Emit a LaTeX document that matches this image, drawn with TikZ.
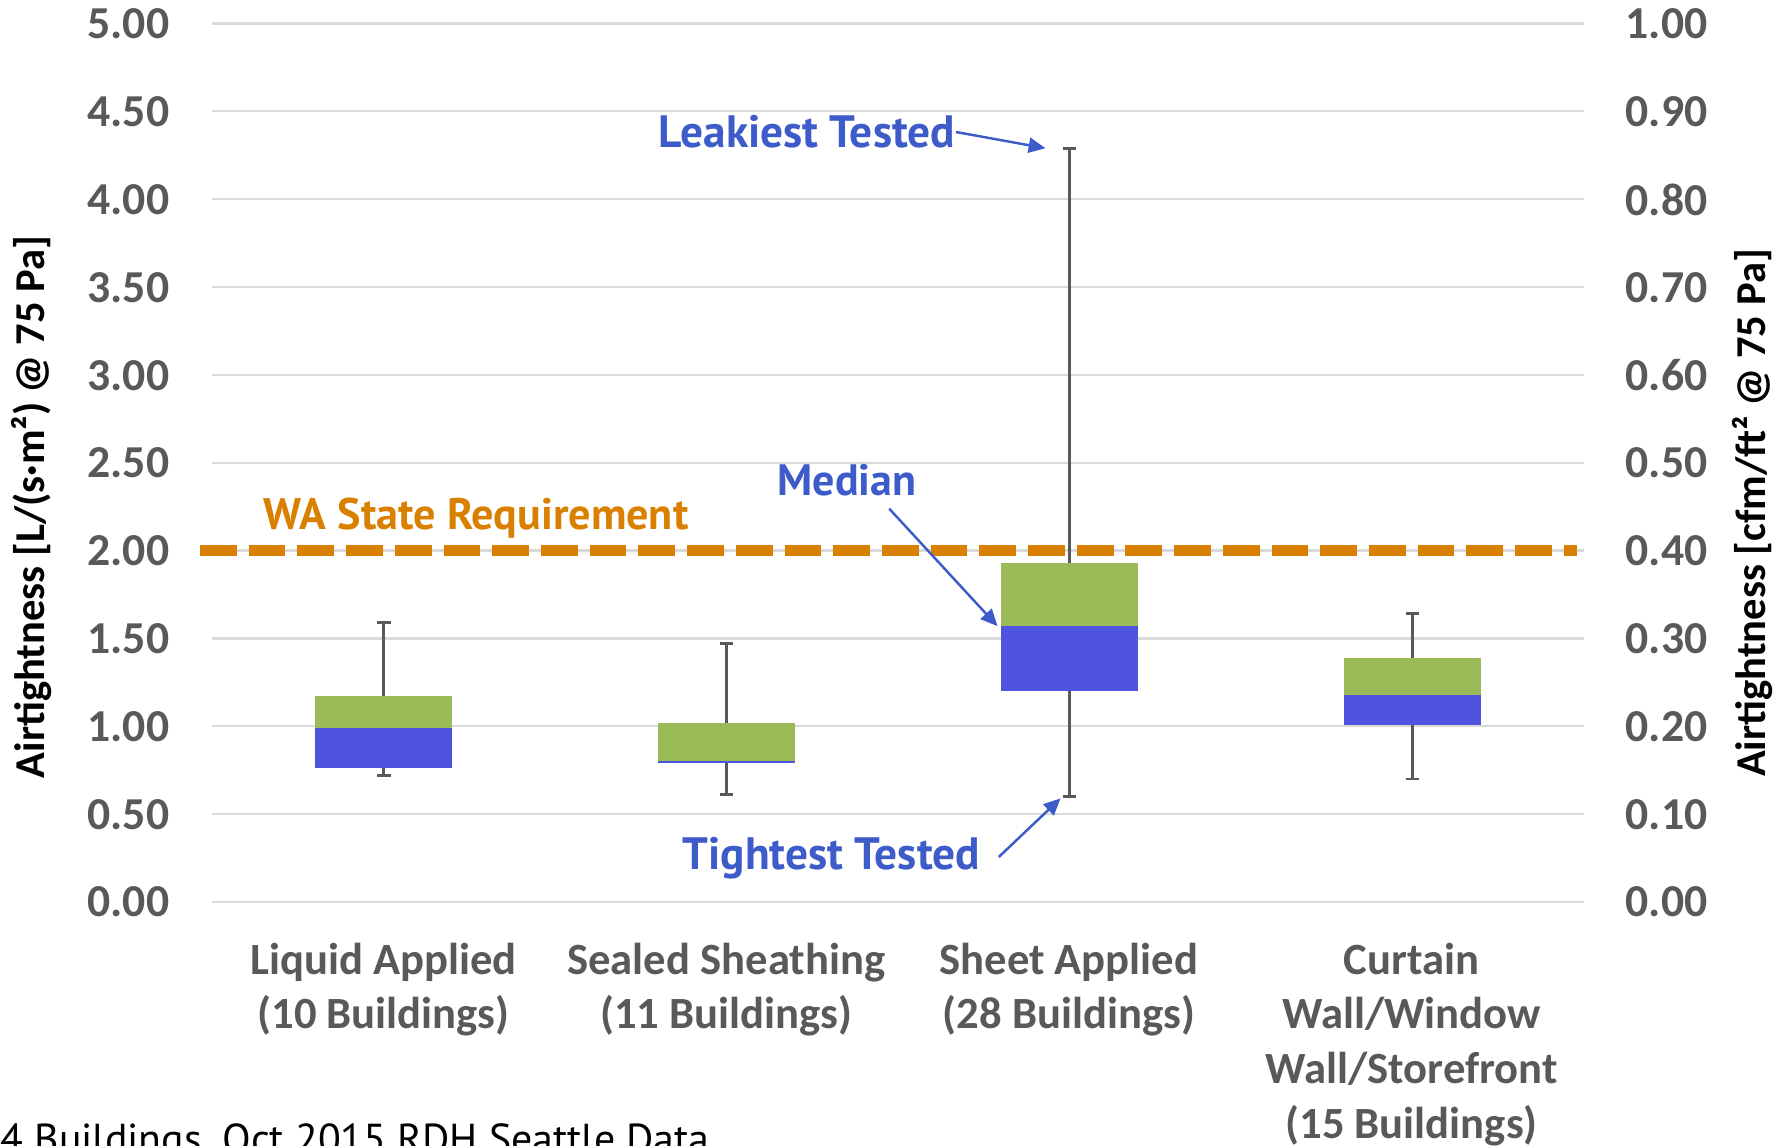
\documentclass[tikz,border=0pt]{standalone}
\usepackage{fontspec}
\setmainfont{Carlito}
\newfontfamily\notefont{PT Sans}
\usetikzlibrary{arrows.meta}
\definecolor{axisgray}{HTML}{595959}
\definecolor{gridgray}{HTML}{D9D9D9}
\definecolor{waorange}{HTML}{D98000}
\definecolor{upperq}{HTML}{9BBB59}
\definecolor{lowerq}{HTML}{4F54DE}
\definecolor{notebl}{HTML}{3D5BC9}
\pgfkeys{/pgf/number format/.cd,fixed,fixed zerofill,precision=2,assume math mode=true}
\begin{document}
\begin{tikzpicture}[x=0.01cm,y=-0.01cm,line join=round,
  ticklbl/.style={font=\bfseries\fontsize{13}{15.6}\selectfont,text=axisgray,inner sep=0pt},
  cat/.style={ticklbl,font=\bfseries\fontsize{12.7}{15.6}\selectfont,align=center,anchor=north},
  axtitle/.style={font=\bfseries\fontsize{12.1}{14.5}\selectfont,inner sep=0pt,rotate=90},
  callout/.style={font=\notefont\bfseries\fontsize{12.9}{15}\selectfont,text=notebl,inner sep=0pt},
  pointer/.style={notebl,line width=0.7pt,-{Triangle[length=4.8pt,width=4.3pt]}},
  whisk/.style={axisgray,line width=0.77pt},
  gridline/.style={gridgray,line width=0.65pt},
  req/.style={waorange,line width=3.3pt,dash pattern=on 10.44pt off 3.41pt}]
\useasboundingbox (0,0) rectangle (1791,1146);
% plot area: one unit = one category across, 1 L/(s m2) up
\begin{scope}[shift={(40.8,902)},x=3.427cm,y=1.756cm]
\foreach \v in {0,0.5,...,5}
  \draw[gridline] (0.5,\v) -- (4.5,\v);
\foreach \k/\lo/\qa/\me/\qb/\hi in {1/0.72/0.76/0.99/1.17/1.59,2/0.61/0.79/0.80/1.02/1.47,
    3/0.60/1.20/1.57/1.93/4.29,4/0.70/1.01/1.18/1.39/1.64}{
  \draw[whisk] (\k,\lo) -- (\k,\hi);
  \draw[whisk] (\k-0.02,\lo) -- (\k+0.02,\lo) (\k-0.02,\hi) -- (\k+0.02,\hi);
  \fill[lowerq] (\k-0.2,\qa) rectangle (\k+0.2,\me);
  \fill[upperq] (\k-0.2,\me) rectangle (\k+0.2,\qb);
}
\draw[req] (0.4645,2) -- (4.48,2);
\coordinate (leaktip) at (2.93,4.29);
\coordinate (medtip) at (2.79,1.57);
\coordinate (tighttip) at (2.974,0.59);
\end{scope}
% axis numbers
\foreach \v [count=\i] in {0,0.5,...,5}{
  \pgfmathsetmacro{\r}{\v/5}
  \node[ticklbl,anchor=east] (yl\i) at (170,{902-175.6*\v}) {\pgfmathprintnumber{\v}};
  \node[ticklbl,anchor=west] (yr\i) at (1625,{902-175.6*\v}) {\pgfmathprintnumber{\r}};
}
\node[axtitle] (ytl) at (32,507) {Airtightness [L/(s·m²) @ 75 Pa]};
\node[axtitle] (ytr) at (1753,513) {Airtightness [cfm/ft² @ 75 Pa]};
% categories
\node[cat] (c1) at (383.5,942) {Liquid Applied\\(10 Buildings)};
\node[cat] (c2) at (726.2,942) {Sealed Sheathing\\(11 Buildings)};
\node[cat] (c3) at (1068.9,942) {Sheet Applied\\(28 Buildings)};
\node[cat] (c4) at (1411.6,942) {Curtain\\Wall/Window\\Wall/Storefront\\(15 Buildings)};
% notes
\node[callout,font=\notefont\bfseries\fontsize{12.55}{15}\selectfont,text=waorange,anchor=west] (wa) at (263,518) {WA State Requirement};
\node[callout,anchor=west] (leak) at (658,132) {Leakiest Tested};
\node[callout,font=\notefont\bfseries\fontsize{12.5}{15}\selectfont,anchor=west] (med) at (777,480) {Median};
\node[callout,anchor=west] (tight) at (682,858) {Tightest Tested};
\draw[pointer] (leak.east) -- (leaktip);
\draw[pointer] ([shift={(-28,12)}]med.south east) -- (medtip);
\draw[pointer] ([shift={(18,-1)}]tight.east) -- (tighttip);
\node[anchor=base west,inner sep=0pt,font=\notefont\fontsize{11.9}{14}\selectfont] (src) at (0,1153) {4 Buildings, Oct 2015 RDH Seattle Data};
\end{tikzpicture}
\end{document}
